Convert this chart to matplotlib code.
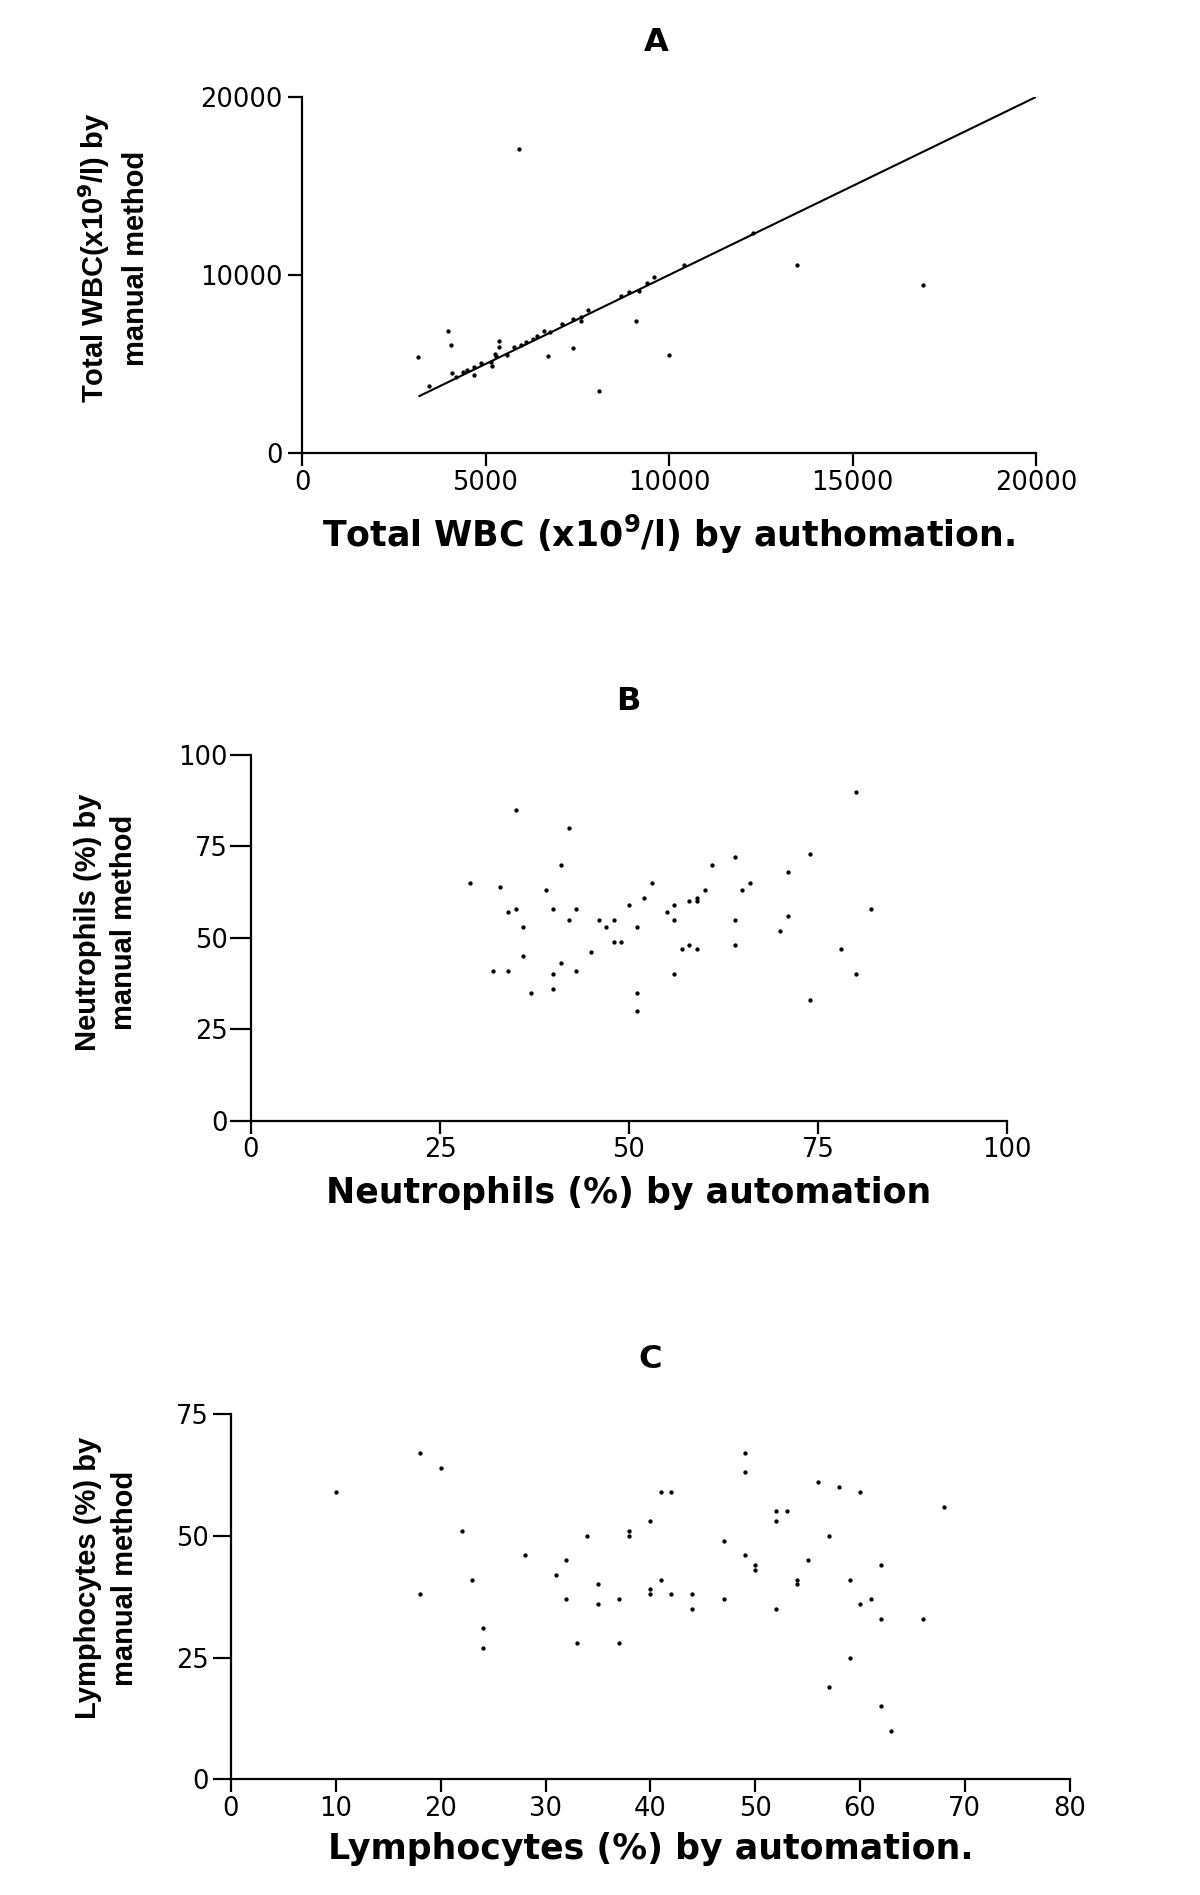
import matplotlib
matplotlib.use('Agg')
import matplotlib.pyplot as plt

# A: total WBC, automation vs manual
wbc_auto = [5900, 3170, 3470, 3980, 4070, 4080, 4190, 4380, 4490, 4680,
            4680, 4880, 5150, 5180, 5270, 5290, 5380, 5380, 5580, 5790,
            5980, 6100, 6300, 6390, 6590, 6690, 6760, 7090, 7390, 7390,
            7590, 7590, 7790, 8090, 8680, 8900, 9090, 9170, 9400, 9580,
            9990, 10400, 12290, 13500, 16910]
wbc_manual = [17100, 5380, 3760, 6870, 6050, 4480, 4250, 4550, 4660, 4850,
              4360, 5060, 5130, 4890, 5560, 5450, 6270, 5970, 5510, 5970,
              6070, 6240, 6390, 6570, 6850, 5450, 6780, 7270, 5880, 7550,
              7620, 7400, 8050, 3460, 8820, 9050, 7400, 9120, 9570, 9870,
              5480, 10560, 12340, 10560, 9460]
line_x = [3200, 20000]   # line of identity

# B: neutrophils (%)
neu_auto = [29, 33, 35, 42, 41, 39, 34, 35, 40, 43, 36, 42, 46, 47, 48, 48, 49, 50,
            36, 32, 34, 43, 41, 45, 40, 40, 37,
            51, 51, 51, 52, 53, 55, 56, 56, 56, 57, 58, 58, 59, 59, 59, 60, 61,
            64, 64, 64, 65, 66, 70, 71, 71, 74, 74, 78, 80, 80, 82]
neu_manual = [65, 64, 85, 80, 70, 63, 57, 58, 58, 58, 53, 55, 55, 53, 55, 49, 49, 59,
              45, 41, 41, 41, 43, 46, 40, 36, 35,
              53, 35, 30, 61, 65, 57, 59, 55, 40, 47, 60, 48, 61, 60, 47, 63, 70,
              72, 55, 48, 63, 65, 52, 56, 68, 73, 33, 47, 90, 40, 58]

# C: lymphocytes (%)
lym_auto = [10, 18, 18, 20, 22, 23, 24, 24, 28, 31, 32, 32, 33, 34, 35, 35, 37, 37,
            38, 38, 40, 40, 40,
            41, 42, 41, 42, 44, 44, 47, 47, 49, 49, 49, 50, 50, 52, 52, 53, 52,
            54, 54, 55, 56, 57, 57, 58, 59, 59, 60, 60, 61, 62, 62, 62, 63, 66, 68]
lym_manual = [59, 67, 38, 64, 51, 41, 31, 27, 46, 42, 45, 37, 28, 50, 40, 36, 37, 28,
              51, 50, 53, 39, 38,
              59, 59, 41, 38, 38, 35, 49, 37, 67, 63, 46, 44, 43, 55, 53, 55, 35,
              41, 40, 45, 61, 50, 19, 60, 41, 25, 59, 36, 37, 44, 33, 15, 10, 33, 56]

plt.rcParams['font.family'] = 'DejaVu Sans'
plt.rcParams['mathtext.fontset'] = 'dejavusans'

fig = plt.figure(figsize=(12, 18.95), dpi=100)
W, H = 1200, 1895


def box(left, right, top, bottom):
    return [left / W, 1 - bottom / H, (right - left) / W, (bottom - top) / H]


def style(ax, ylen, ypad):
    ax.spines['top'].set_visible(False)
    ax.spines['right'].set_visible(False)
    ax.spines['left'].set_linewidth(1.6)
    ax.spines['bottom'].set_linewidth(1.6)
    ax.tick_params(axis='y', length=ylen, width=1.6, pad=ypad, labelsize=18.5)
    ax.tick_params(axis='x', length=9, width=1.6, pad=3, labelsize=18.5)


axA = fig.add_axes(box(302, 1036, 97, 453))
axA.plot(line_x, line_x, color='black', lw=1.5)
axA.plot(wbc_auto, wbc_manual, 'o', ms=2.1, color='black', clip_on=False)
axA.set_xlim(0, 20000)
axA.set_ylim(0, 20000)
axA.set_xticks([0, 5000, 10000, 15000, 20000])
axA.set_yticks([0, 10000, 20000])
style(axA, 10, 4)
axA.set_title('A', x=0.482, y=1.154, pad=0, va='center', fontsize=23, fontweight='bold')
axA.set_xlabel(r'Total WBC (x10$^{\mathbf{9}}$/l) by authomation.',
               fontsize=25, fontweight='bold', va='center')
axA.xaxis.set_label_coords(0.5, -0.2275)
axA.set_ylabel('Total WBC(x10$^{\\mathbf{9}}$/l) by\nmanual method',
               family='Liberation Sans', fontsize=21, fontweight='bold',
               ha='center', va='center', multialignment='center', linespacing=1.45)
axA.yaxis.set_label_coords(-0.257, 0.548)

axB = fig.add_axes(box(251, 1007, 755, 1120.7))
axB.plot(neu_auto, neu_manual, 'o', ms=2.1, color='black', clip_on=False)
axB.set_xlim(0, 100)
axB.set_ylim(0, 100)
axB.set_xticks([0, 25, 50, 75, 100])
axB.set_yticks([0, 25, 50, 75, 100])
style(axB, 15, 1.5)
axB.set_title('B', x=0.499, y=1.145, pad=0, va='center', fontsize=23, fontweight='bold')
axB.set_xlabel('Neutrophils (%) by automation', fontsize=25, fontweight='bold', va='center')
axB.xaxis.set_label_coords(0.5, -0.198)
axB.set_ylabel('Neutrophils (%) by\nmanual method',
               family='Liberation Sans', fontsize=21, fontweight='bold',
               ha='center', va='center', multialignment='center', linespacing=1.35)
axB.yaxis.set_label_coords(-0.192, 0.543)

axC = fig.add_axes(box(231, 1069.7, 1414, 1779.3))
axC.plot(lym_auto, lym_manual, 'o', ms=2.1, color='black', clip_on=False)
axC.set_xlim(0, 80)
axC.set_ylim(0, 75)
axC.set_xticks(range(0, 81, 10))
axC.set_yticks([0, 25, 50, 75])
style(axC, 13, 3)
axC.set_title('C', x=0.5, y=1.148, pad=0, va='center', fontsize=23, fontweight='bold')
axC.set_xlabel('Lymphocytes (%) by automation.', fontsize=25, fontweight='bold', va='center')
axC.xaxis.set_label_coords(0.5, -0.191)
axC.set_ylabel('Lymphocytes (%) by\nmanual method',
               family='Liberation Sans', fontsize=21, fontweight='bold',
               ha='center', va='center', multialignment='center', linespacing=1.4)
axC.yaxis.set_label_coords(-0.148, 0.551)

fig.savefig('out.png', dpi=100)
